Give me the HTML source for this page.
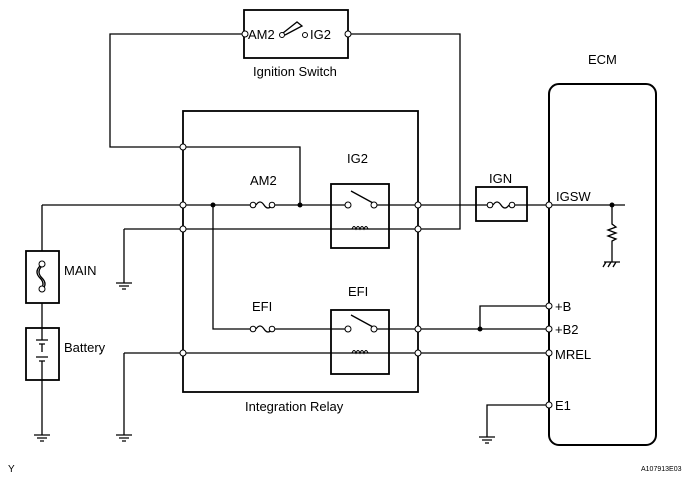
<!DOCTYPE html>
<html><head><meta charset="utf-8"><style>
html,body{margin:0;padding:0;background:#fff;width:690px;height:484px;overflow:hidden}
svg{display:block}
text{font-family:"Liberation Sans",Arial,sans-serif;font-size:13px;fill:#000}
</style></head><body>
<svg width="690" height="484" viewBox="0 0 690 484" xmlns="http://www.w3.org/2000/svg">
<g fill="none" stroke="#000" stroke-width="1.3">
<rect x="244" y="10" width="104" height="48" stroke-width="1.8"/>
<path d="M245 34 H110 V147 H300 V205"/>
<path d="M348 34 H460 V229 H418"/>
<path d="M283 33 L297 22 L302 26 L285 35"/>
<rect x="183" y="111" width="235" height="281" stroke-width="1.8"/>
<path d="M42 205 V251 M42 303 V328 M42 380 V435"/>
<path d="M42 205 H253 M272 205 H348 M374 205 H490 M512 205 H625"/>
<path d="M124 229 V283 M124 229 H418"/>
<path d="M213 205 V329 H253 M272 329 H348 M374 329 H549"/>
<path d="M480 329 V306 H549"/>
<path d="M124 353 V435 M124 353 H549"/>
<path d="M549 405 H487 V437"/>
<rect x="331" y="184" width="58" height="64" stroke-width="1.8" fill="none"/>
<rect x="331" y="310" width="58" height="64" stroke-width="1.8" fill="none"/>
<path d="M351 191 L373 203 M351 315 L373 327"/>
<path d="M256 205 q4 -6 8 0 q4 6 8 0 M256 329 q4 -6 8 0 q4 6 8 0"/>
<path d="M493 205 q4 -6 8 0 q4 6 8 0"/>
<rect x="476" y="187" width="51" height="34" stroke-width="1.8"/>
<rect x="549" y="84" width="107" height="361" rx="10" stroke-width="2"/>
<path d="M612 205 V224 l4 3 -8 3 8 3 -8 3 8 3 -4 2 V262"/>
<path d="M604 262 H620 M606 262 l-3 5 M611 262 l-3 5 M616 262 l-3 5"/>
<path d="M352 229 q2 -5 4 0 q2 -5 4 0 q2 -5 4 0 q2 -5 4 0 M352 353 q2 -5 4 0 q2 -5 4 0 q2 -5 4 0 q2 -5 4 0" stroke-width="1.1"/>
<rect x="26" y="251" width="33" height="52" stroke-width="1.8" fill="#fff"/>
<rect x="26" y="328" width="33" height="52" stroke-width="1.8" fill="#fff"/>
<path d="M42 266 q-6 6 0 12 q6 6 0 12 M40 266 q-6 6 0 12 q6 6 0 12"/>
<path d="M42 328 V340 M36 340 H48 M39 344 H45 M42 344 V352 M36 357 H48 M39 361 H45 M42 361 V380"/>
<path d="M34 435 H50 M37 438 H47 M40 441 H44"/>
<path d="M116 435 H132 M119 438 H129 M122 441 H126"/>
<path d="M116 283 H132 M119 286 H129 M122 289 H126"/>
<path d="M479 437 H495 M482 440 H492 M485 443 H489"/>
</g>
<g fill="#000"><circle cx="213" cy="205" r="2.5"/><circle cx="300" cy="205" r="2.5"/><circle cx="480" cy="329" r="2.5"/><circle cx="612" cy="205" r="2.5"/></g>
<g fill="#fff" stroke="#000" stroke-width="1">
<circle cx="245" cy="34" r="3"/><circle cx="348" cy="34" r="3"/><circle cx="282" cy="35" r="2.5"/><circle cx="305" cy="35" r="2.5"/>
<circle cx="183" cy="147" r="3"/><circle cx="183" cy="205" r="3"/><circle cx="183" cy="229" r="3"/><circle cx="183" cy="353" r="3"/>
<circle cx="418" cy="205" r="3"/><circle cx="418" cy="229" r="3"/><circle cx="418" cy="329" r="3"/><circle cx="418" cy="353" r="3"/>
<circle cx="253" cy="205" r="2.8"/><circle cx="272" cy="205" r="2.8"/><circle cx="253" cy="329" r="2.8"/><circle cx="272" cy="329" r="2.8"/>
<circle cx="490" cy="205" r="2.8"/><circle cx="512" cy="205" r="2.8"/>
<circle cx="348" cy="205" r="3"/><circle cx="374" cy="205" r="3"/><circle cx="348" cy="329" r="3"/><circle cx="374" cy="329" r="3"/>
<circle cx="549" cy="205" r="3"/><circle cx="549" cy="306" r="3"/><circle cx="549" cy="329" r="3"/><circle cx="549" cy="353" r="3"/><circle cx="549" cy="405" r="3"/>
<circle cx="42" cy="264" r="3"/><circle cx="42" cy="289" r="3"/>
</g>
<text x="248" y="39">AM2</text><text x="310" y="39">IG2</text>
<text x="253" y="76">Ignition Switch</text>
<text x="347" y="163">IG2</text>
<text x="250" y="185">AM2</text>
<text x="489" y="183">IGN</text>
<text x="556" y="201">IGSW</text>
<text x="588" y="64">ECM</text>
<text x="64" y="275">MAIN</text>
<text x="64" y="352">Battery</text>
<text x="348" y="296">EFI</text>
<text x="252" y="311">EFI</text>
<text x="555" y="311">+B</text>
<text x="555" y="334">+B2</text>
<text x="555" y="359">MREL</text>
<text x="555" y="410">E1</text>
<text x="245" y="411">Integration Relay</text>
<text x="8" y="472" style="font-size:10px">Y</text>
<text x="641" y="471" style="font-size:7px">A107913E03</text>
</svg>
</body></html>
